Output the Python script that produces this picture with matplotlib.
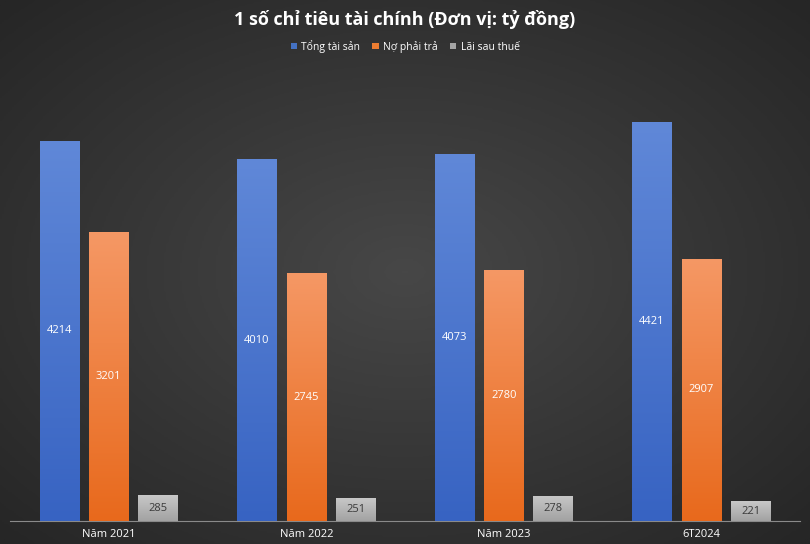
import matplotlib
matplotlib.use("Agg")
import matplotlib.pyplot as plt
import numpy as np
from matplotlib.colors import LinearSegmentedColormap

categories = ["Năm 2021", "Năm 2022", "Năm 2023", "6T2024"]
tong_tai_san = [4214, 4010, 4073, 4421]
no_phai_tra = [3201, 2745, 2780, 2907]
lai_sau_thue = [285, 251, 278, 221]
series_names = ["Tổng tài sản", "Nợ phải trả", "Lãi sau thuế"]

plt.rcParams['font.family'] = ['Open Sans', 'DejaVu Sans']

fig = plt.figure(figsize=(8.1, 5.44), dpi=100)

# radial background
bg = fig.add_axes([0, 0, 1, 1], zorder=-10)
yy, xx = np.mgrid[-1:1:300j, -1:1:400j]
r = np.sqrt(xx**2 + yy**2)
bg.imshow(np.clip(r / 1.4, 0, 1), cmap=LinearSegmentedColormap.from_list("bg", ["#474747", "#262626"]),
          aspect="auto", extent=[0, 1, 0, 1])
bg.axis("off")

ax = fig.add_axes([10 / 810, 23 / 544, 790 / 810, 451 / 544])
ax.set_facecolor("none")
ax.set_xlim(-0.5, 3.5)
ax.set_ylim(0, 5000)

x = np.arange(len(categories))
w = 0.2
specs = [
    (tong_tai_san, -0.25, ("#6088d8", "#3763c2"), "white", "#4472c4"),
    (no_phai_tra, 0.0, ("#f59865", "#e8691c"), "white", "#ed7d31"),
    (lai_sau_thue, 0.25, ("#c8c8c8", "#a2a2a2"), "#3a3a3a", "#a5a5a5"),
]
grad = np.linspace(1, 0, 256).reshape(-1, 1)
for (vals, off, cols, tcol, lcol), name in zip(specs, series_names):
    cm = LinearSegmentedColormap.from_list(name, [cols[1], cols[0]])
    bars = ax.bar(x + off, vals, w, color=lcol, label=name, zorder=2)
    for b, v in zip(bars, vals):
        im = ax.imshow(grad, cmap=cm, aspect="auto", zorder=3,
                       extent=[b.get_x(), b.get_x() + w, 0, v])
        im.set_clip_path(b)
        ax.text(b.get_x() + w / 2, v / 2, str(v), ha="center", va="center",
                color=tcol, fontsize=8, zorder=4)
ax.set_xlim(-0.5, 3.5)
ax.set_ylim(0, 5000)

ax.set_yticks([])
ax.set_xticks(x)
ax.set_xticklabels(categories, color="white", fontsize=8)
ax.tick_params(axis="x", length=0, pad=6)
for s in ["top", "right", "left"]:
    ax.spines[s].set_visible(False)
ax.spines["bottom"].set_color("#8a8a8a")

fig.text(0.5, 0.965, "1 số chỉ tiêu tài chính (Đơn vị: tỷ đồng)", ha="center", va="center",
         color="white", fontsize=13, fontweight="bold")
leg = fig.legend(loc="center", bbox_to_anchor=(0.5, 0.915), ncol=3, frameon=False,
                 fontsize=7.5, handlelength=0.6, handleheight=0.6, columnspacing=1.2,
                 handletextpad=0.4, labelcolor="white")
fig.savefig("out.png", dpi=100)
